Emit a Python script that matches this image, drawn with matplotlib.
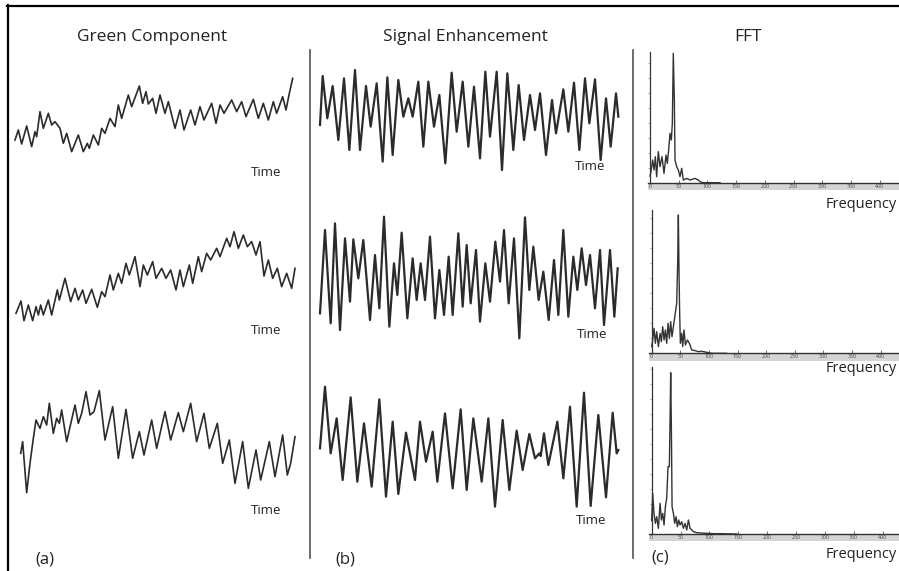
import matplotlib
matplotlib.use("Agg")
import matplotlib.pyplot as plt
from matplotlib.lines import Line2D

plt.rcParams['font.family'] = ['Open Sans', 'DejaVu Sans']

# ---------------- data (arbitrary units) ----------------
titles = ["Green Component", "Signal Enhancement", "FFT"]
panel_tags = ["(a)", "(b)", "(c)"]
time_label = "Time"
freq_label = "Frequency"

# Green component traces (time, value)
a1_t = [45,55,65,80,95,105,110,120,130,145,155,165,180,190,200,215,235,250,262,268,280,295,305,315,330,345,355,365,385,395,418,428,438,445,458,468,480,495,505,525,540,552,572,585,600,612,635,648,660,672,695,710,725,738,760,775,790,805,820,830,848,858,868,878]
a1_v = [80,110,68,122,60,105,90,165,115,160,125,135,115,70,100,45,95,45,70,55,95,65,115,100,145,120,185,145,215,180,242,190,225,188,205,160,215,160,195,115,170,110,170,125,180,140,190,130,185,160,200,165,195,150,202,145,190,140,195,160,210,170,220,265]

a2_t = [48,63,72,85,98,108,115,122,130,145,155,172,178,195,212,225,235,248,258,275,292,305,315,330,340,355,365,378,388,405,420,430,442,458,468,485,498,512,528,540,550,568,578,595,605,620,632,650,660,680,690,702,715,730,742,755,768,780,792,805,818,832,845,860,875,885]
a2_v = [130,167,108,155,108,150,125,155,125,170,125,200,170,235,165,205,170,200,160,202,148,195,180,245,200,250,220,280,245,300,210,275,245,285,235,265,235,260,200,260,210,275,220,300,255,310,290,325,300,355,330,375,325,365,330,345,305,345,242,290,235,265,210,250,205,265]

a3_t = [62,68,80,90,100,108,115,120,130,140,148,160,170,178,185,200,225,235,245,258,270,282,298,315,338,355,378,398,418,432,455,470,495,512,535,550,572,590,612,628,652,668,688,705,728,745,768,782,808,825,848,862,872,885]
a3_v = [250,285,132,220,295,350,335,325,360,335,400,310,355,340,380,285,395,340,370,435,365,375,438,290,390,235,382,235,315,245,350,265,375,290,372,315,400,285,370,265,340,220,290,160,285,145,260,170,285,180,305,185,220,300]

# Signal enhancement traces (time, value)
b1_t = [60,68,82,98,115,132,148,165,180,198,212,230,248,262,278,295,310,325,338,355,370,385,402,418,436,455,470,488,505,522,540,556,570,590,606,622,640,656,672,690,705,720,738,756,768,790,805,822,838,855,868,885,902,918,932,948,955]
b1_v = [175,322,195,292,130,315,100,340,100,292,170,300,65,318,85,310,200,255,200,305,110,305,170,265,60,332,155,305,110,290,75,335,140,335,40,330,100,295,130,265,160,270,85,250,150,282,155,302,100,315,180,312,70,255,110,270,200]

b2_t = [60,75,92,105,120,135,150,160,175,190,210,225,238,252,268,282,292,305,322,338,350,362,375,390,405,418,432,446,458,475,488,500,512,528,540,556,570,586,600,612,626,642,658,675,688,700,716,730,746,762,775,790,805,820,832,845,858,870,885,900,912,930,943,953]
b2_v = [130,380,100,400,80,355,165,352,235,350,110,305,145,420,90,280,185,372,115,295,170,280,170,360,115,260,125,300,125,370,150,335,160,320,105,280,165,345,225,380,160,355,55,418,200,330,170,255,110,290,125,380,120,300,200,325,215,305,145,320,95,320,120,265]

b3_t = [60,75,92,110,128,152,172,192,215,238,258,278,295,318,345,360,378,398,412,435,458,482,500,520,545,565,585,608,628,650,668,688,705,718,722,732,745,772,790,810,830,852,872,895,918,938,950,955]
b3_v = [265,450,250,355,170,418,165,340,150,412,120,345,128,312,170,345,225,315,165,370,145,382,140,355,165,355,90,350,140,318,200,308,235,250,242,310,215,345,175,390,90,432,92,365,118,372,250,260]

# FFT spectra (frequency, magnitude)
c1_f = [0,1.2,4.6,7.0,9.3,11.6,14.5,17.4,20.9,24.4,27.9,30.2,32.5,34.8,37.2,38.9,40.6,42.4,43.6,46.5,49.4,52.3,55.2,58.1,63.9,69.7,78.4,84.2,87.1,92.9,122]
c1_m = [20,28,68,38,78,18,93,48,78,28,83,58,98,148,128,178,388,248,68,48,38,18,43,8,13,8,13,8,3,0,0]

c2_f = [0,1.7,4.1,6.4,8.7,11.7,14.6,16.9,19.2,21.6,23.9,26.2,28.6,30.9,33.2,35.5,37.9,40.8,43.7,45.5,46.6,47.8,48.9,50.1,52.4,54.2,56.5,58.9,62.4,65.9,69.9,75.8,81.6,87.4,93.2,99.0,104.9,131]
c2_m = [20,40,75,30,65,20,60,35,80,40,70,30,90,45,95,50,80,115,150,280,415,240,120,30,60,20,70,25,40,30,10,8,5,6,4,2,0,0]

c3_f = [0,1.7,4.0,6.4,8.7,11.6,14.5,16.8,19.1,21.4,23.7,26.0,28.3,30.6,31.8,32.9,34.1,35.3,37.6,39.9,42.2,44.5,46.8,49.1,52.0,54.9,57.8,60.7,63.6,66.5,72.3,78.0,83.8,95.4,106.9,118.5,147.4]
c3_m = [40,122,62,32,52,17,92,42,62,27,82,107,202,202,342,484,322,82,62,32,52,22,42,27,37,17,32,12,42,17,7,4,3,2,1,1,0]

freq_ticks = [0, 50, 100, 150, 200, 250, 300, 350, 400]

# ---------------- layout ----------------
W, H = 899, 571
fig = plt.figure(figsize=(W / 100, H / 100), dpi=100)
fig.patch.set_facecolor("white")


def box(x0, y0, x1, y1):
    return fig.add_axes([x0 / W, 1 - y1 / H, (x1 - x0) / W, (y1 - y0) / H])


def fline(xs, ys, **kw):
    fig.add_artist(Line2D([x / W for x in xs], [1 - y / H for y in ys],
                          transform=fig.transFigure, **kw))


def ftext(x, y, s, **kw):
    fig.text(x / W, 1 - y / H, s, **kw)


# frame and separators
fline([7, 899], [5.5, 5.5], color="black", lw=1.6)
fline([8, 8], [5, 571], color="black", lw=1.6)
fline([310, 310], [50, 558], color="#444444", lw=1.1)
fline([632.5, 632.5], [50, 558], color="#444444", lw=1.1)

# time-domain traces
traces = [
    ((0, 0, 310, 200, 500), a1_t, a1_v, 1.2),
    ((0, 190, 320, 180, 500), a2_t, a2_v, 1.2),
    ((0, 370, 320, 201, 500), a3_t, a3_v, 1.2),
    ((300, 0, 340, 200, 550), b1_t, b1_v, 1.6),
    ((300, 190, 340, 180, 500), b2_t, b2_v, 1.6),
    ((300, 370, 340, 201, 500), b3_t, b3_v, 1.6),
]
for (X0, Y0, w, h, C), t, v, lw in traces:
    ax = box(X0, Y0, X0 + w, Y0 + h)
    ax.set_xlim(0, 3 * w)
    ax.set_ylim(C - 3 * h, C)
    ax.axis("off")
    ax.patch.set_alpha(0)
    ax.plot(t, v, color="#2b2b2b", lw=lw, solid_joinstyle="round")

# FFT panels: (zero x px, px per unit, axis y px, top px), data
ffts = [
    ((650.0, 0.574, 182.7, 40), c1_f, c1_m, 392),
    ((651.7, 0.572, 353.3, 200), c2_f, c2_m, 430),
    ((651.7, 0.577, 534.0, 360), c3_f, c3_m, 500),
]
for (x0, sx, ya, ytop), f, m, yax in ffts:
    pad = 4
    left = x0 - pad * sx
    bottom = ya + 7.3
    ax = box(left, ytop, W, bottom)
    ax.set_xlim(-pad, (W - x0) / sx)
    ax.set_ylim(-(bottom - ya) * 3, (ya - ytop) * 3)
    ax.patch.set_alpha(0)
    ax.axhspan(-(bottom - ya) * 3, 0, color="#d4d4d4", lw=0, zorder=0)
    ax.plot(f, m, color="#333333", lw=1.0, zorder=3)
    for s in ("top", "right"):
        ax.spines[s].set_visible(False)
    ax.spines["bottom"].set_position(("data", 0))
    ax.spines["bottom"].set_color("#333333")
    ax.spines["bottom"].set_linewidth(1.0)
    ax.spines["left"].set_position(("data", 0))
    ax.spines["left"].set_bounds(0, yax)
    ax.spines["left"].set_color("#333333")
    ax.spines["left"].set_linewidth(0.9)
    ax.set_xticks(freq_ticks)
    ax.set_xticklabels([str(v) for v in freq_ticks])
    ax.tick_params(axis="x", direction="in", length=2, width=0.6, color="#555555",
                   labelsize=3.8, pad=0.8, labelcolor="#444444")
    ax.set_yticks(list(range(0, yax, 45)))
    ax.set_yticklabels([])
    ax.tick_params(axis="y", direction="out", length=1.5, width=0.5, color="#888888")

# titles
ftext(152, 37, titles[0], fontsize=12.5, ha="center", va="center", color="#222222")
ftext(465, 37, titles[1], fontsize=12.5, ha="center", va="center", color="#222222")
ftext(748, 37, titles[2], fontsize=12.5, ha="center", va="center", color="#222222")

# axis captions
for x, y in [(266, 172), (266, 331), (266, 511), (590, 167), (592, 335), (591, 520)]:
    ftext(x, y, time_label, fontsize=9.5, ha="center", va="center", color="#222222")
for y in [204, 369, 555]:
    ftext(897, y, freq_label, fontsize=10.5, ha="right", va="center", color="#222222")

# panel tags
ftext(35, 560, panel_tags[0], fontsize=12, ha="left", va="center", color="#222222")
ftext(335, 560, panel_tags[1], fontsize=12, ha="left", va="center", color="#222222")
ftext(651, 557, panel_tags[2], fontsize=12, ha="left", va="center", color="#222222")

fig.savefig("out.png", dpi=100)
